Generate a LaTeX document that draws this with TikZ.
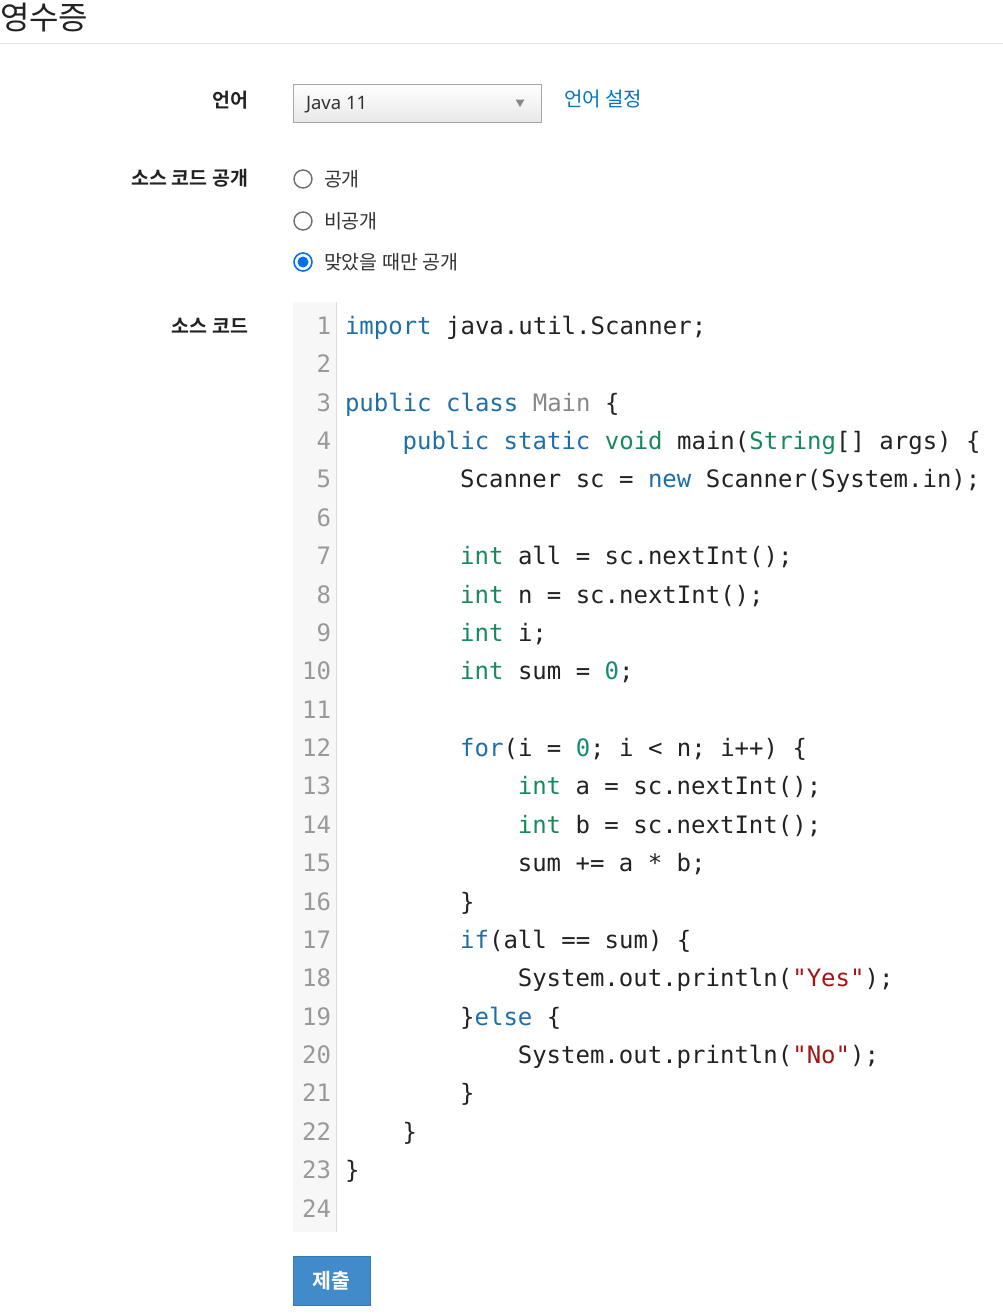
\documentclass[tikz,border=0pt]{standalone}
\usepackage{fontspec}
\setmainfont{Noto Sans}
\newfontfamily\kr{Noto Sans CJK KR}[BoldFont={Noto Sans CJK KR Bold}]
\newfontfamily\code{DejaVu Sans Mono}
\definecolor{txt}{RGB}{34,34,34}
\definecolor{lbl}{RGB}{51,51,51}
\definecolor{kwc}{RGB}{29,111,168}
\definecolor{tyc}{RGB}{23,138,92}
\definecolor{numc}{RGB}{20,140,115}
\definecolor{strc}{RGB}{163,21,21}
\definecolor{grc}{RGB}{136,136,136}
\definecolor{lnc}{RGB}{153,153,153}
\definecolor{linkc}{RGB}{0,118,192}
\definecolor{radioc}{RGB}{0,112,240}
\definecolor{btnc}{RGB}{66,139,202}
\definecolor{btnb}{RGB}{53,122,189}
\newcommand\kw[1]{\textcolor{kwc}{#1}}
\newcommand\ty[1]{\textcolor{tyc}{#1}}
\newcommand\nm[1]{\textcolor{numc}{#1}}
\newcommand\st[1]{\textcolor{strc}{#1}}
\newcommand\gr[1]{\textcolor{grc}{#1}}
\begin{document}
\begin{tikzpicture}[x=1pt,y=-1pt,
  every node/.style={inner sep=0pt,outer sep=0pt},
  codeline/.style={anchor=base west,text=txt,font=\code\fontsize{24}{24}\selectfont},
  lnum/.style={anchor=base east,text=lnc,font=\code\fontsize{24}{24}\selectfont},
  formlabel/.style={anchor=base east,text=txt,font=\kr\bfseries\fontsize{19.5}{19.5}\selectfont},
  radiolabel/.style={anchor=base west,text=lbl,font=\kr\fontsize{19.5}{19.5}\selectfont},
  radiooff/.style={circle,draw=grc!80!black,line width=1.4pt,minimum size=18pt,fill=white},
  radioon/.style={circle,draw=radioc,line width=1.6pt,minimum size=18pt,fill=white}]
\useasboundingbox (0,0) rectangle (1003,1315);
% title
\node[anchor=base west,text=txt,font=\kr\fontsize{32}{32}\selectfont] (title) at (0,29.5) {영수증};
\coordinate (hl) at (0,43.5);
\coordinate (hr) at (1003,43.5);
\draw[draw=black!10,line width=1pt] (hl) -- (hr);
% language
\node[formlabel] (lang) at (248,107.5) {언어};
\node[draw=black!35,top color=white,bottom color=black!9,minimum width=248pt,minimum height=38pt,anchor=north west] (sel) at (293,84) {};
\node[anchor=base west,text=lbl,font=\fontsize{18.5}{18.5}\selectfont] (seltext) at (306,109.5) {Java 11};
\coordinate (arr) at (520,103);
\fill[grc] ([shift={(-4.5,-3.5)}]arr) -- ([shift={(4.5,-3.5)}]arr) -- ([shift={(0,4)}]arr) -- cycle;
\node[anchor=base west,text=linkc,font=\kr\fontsize{20}{20}\selectfont] (langset) at (564,106.5) {언어 설정};
% open source
\node[formlabel] (open) at (248,185.5) {소스 코드 공개};
\node[radiooff] (r1) at (303,179) {};
\node[radiooff] (r2) at (303,221) {};
\node[radioon] (r3) at (303,262) {};
\fill[radioc] (r3.center) circle (5.5pt);
\node[radiolabel] (t1) at (324,186.5) {공개};
\node[radiolabel] (t2) at (324,228.5) {비공개};
\node[radiolabel] (t3) at (324,269.5) {맞았을 때만 공개};
% source code
\node[formlabel] (src) at (248,333.5) {소스 코드};
\fill[black!3] (293,302) rectangle (336,1232);
\draw[black!13,line width=1pt] (336,302) -- (336,1232);
\foreach \k in {1,...,24}{
  \node[lnum] (n\k) at (331,{334.5+38.37*(\k-1)}) {\k};
}
\def\cw{14.4}
\newcommand\cl[3]{\node[codeline] (l#1) at ({345+\cw*#2},{334.5+38.37*(#1-1)}) {#3};}
\cl{1}{0}{\kw{import} java.util.Scanner;}
\cl{3}{0}{\kw{public} \kw{class} \gr{Main} \{}
\cl{4}{4}{\kw{public} \kw{static} \ty{void} main(\ty{String}[] args) \{}
\cl{5}{8}{Scanner sc = \kw{new} Scanner(System.in);}
\cl{7}{8}{\ty{int} all = sc.nextInt();}
\cl{8}{8}{\ty{int} n = sc.nextInt();}
\cl{9}{8}{\ty{int} i;}
\cl{10}{8}{\ty{int} sum = \nm{0};}
\cl{12}{8}{\kw{for}(i = \nm{0}; i < n; i++) \{}
\cl{13}{12}{\ty{int} a = sc.nextInt();}
\cl{14}{12}{\ty{int} b = sc.nextInt();}
\cl{15}{12}{sum += a * b;}
\cl{16}{8}{\}}
\cl{17}{8}{\kw{if}(all == sum) \{}
\cl{18}{12}{System.out.println(\st{"Yes"});}
\cl{19}{8}{\}\kw{else} \{}
\cl{20}{12}{System.out.println(\st{"No"});}
\cl{21}{8}{\}}
\cl{22}{4}{\}}
\cl{23}{0}{\}}
% submit
\node[fill=btnc,draw=btnb,minimum width=77pt,minimum height=49pt,anchor=north west] (btn) at (293,1256) {};
\node[text=white,font=\kr\bfseries\fontsize{20.5}{20.5}\selectfont] (btntext) at (btn.center) {제출};
\end{tikzpicture}
\end{document}
